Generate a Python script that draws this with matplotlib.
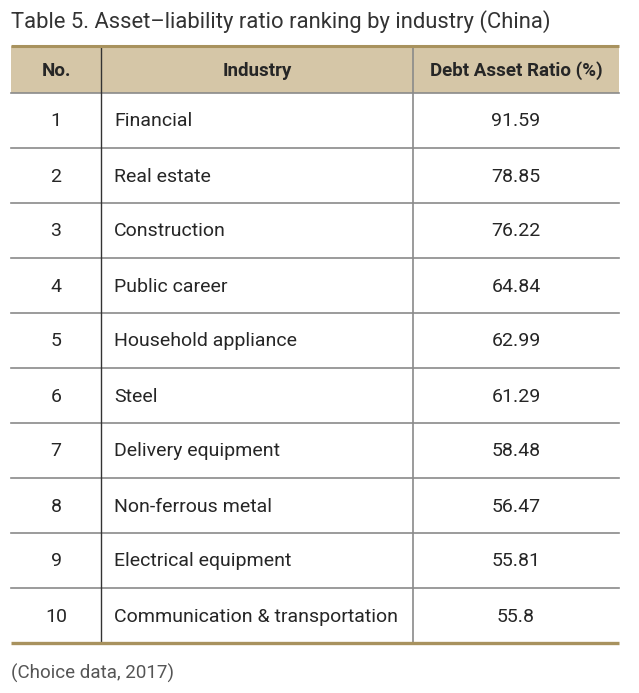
import matplotlib
matplotlib.use("Agg")
import matplotlib.pyplot as plt
from matplotlib.patches import Rectangle

# table content
headers = ["No.", "Industry", "Debt Asset Ratio (%)"]
ranks = ["1", "2", "3", "4", "5", "6", "7", "8", "9", "10"]
industries = ["Financial", "Real estate", "Construction", "Public career",
              "Household appliance", "Steel", "Delivery equipment",
              "Non-ferrous metal", "Electrical equipment",
              "Communication & transportation"]
ratios = ["91.59", "78.85", "76.22", "64.84", "62.99", "61.29", "58.48",
          "56.47", "55.81", "55.8"]

title = "Table 5. Asset\u2013liability ratio ranking by industry (China)"
source = "(Choice data, 2017)"

W, H = 639, 693
fig = plt.figure(figsize=(W / 100, H / 100), dpi=100)
ax = fig.add_axes([0, 0, 1, 1])
ax.set_xlim(0, W)
ax.set_ylim(H, 0)
ax.axis("off")

plt.rcParams["font.family"] = ["Roboto", "DejaVu Sans"]

left, right = 11, 619
col_x = [11, 101, 413, 619]
top, head_bottom = 46, 93
row_h = 55
bottom = head_bottom + row_h * len(ranks)

gold = "#a8925e"
head_bg = "#d5c6a7"
grid = "#8a8a8a"
txt = "#262626"

# header background
ax.add_patch(Rectangle((left, top), right - left, head_bottom - top,
                       facecolor=head_bg, edgecolor="none"))

# row separators
for i in range(len(ranks)):
    y = head_bottom + row_h * i
    ax.plot([left, right], [y, y], color=grid, lw=1.2)

# vertical lines
ax.plot([col_x[1], col_x[1]], [top, bottom], color="#333333", lw=1.0)
ax.plot([col_x[2], col_x[2]], [top, bottom], color=grid, lw=1.2)

# top and bottom gold rules
ax.plot([left, right], [top, top], color=gold, lw=2.2, solid_capstyle="butt")
ax.plot([left, right], [bottom, bottom], color=gold, lw=2.4, solid_capstyle="butt")

# header text
hy = (top + head_bottom) / 2 + 1
for j, h in enumerate(headers):
    cx = (col_x[j] + col_x[j + 1]) / 2
    ax.text(cx, hy, h, ha="center", va="center", fontsize=13.5,
            fontweight="bold", color=txt)

# rows
for i in range(len(ranks)):
    cy = head_bottom + row_h * (i + 0.5) + 1
    ax.text((col_x[0] + col_x[1]) / 2, cy, ranks[i], ha="center", va="center",
            fontsize=14, color=txt)
    ax.text(col_x[1] + 13, cy, industries[i], ha="left", va="center",
            fontsize=14, color=txt)
    ax.text((col_x[2] + col_x[3]) / 2, cy, ratios[i], ha="center", va="center",
            fontsize=14, color=txt)

ax.text(11, 22, title, ha="left", va="center", fontsize=15.8, color="#333333")
ax.text(11, 673, source, ha="left", va="center", fontsize=13.5, color="#555555")

fig.savefig("out.png", dpi=100)
